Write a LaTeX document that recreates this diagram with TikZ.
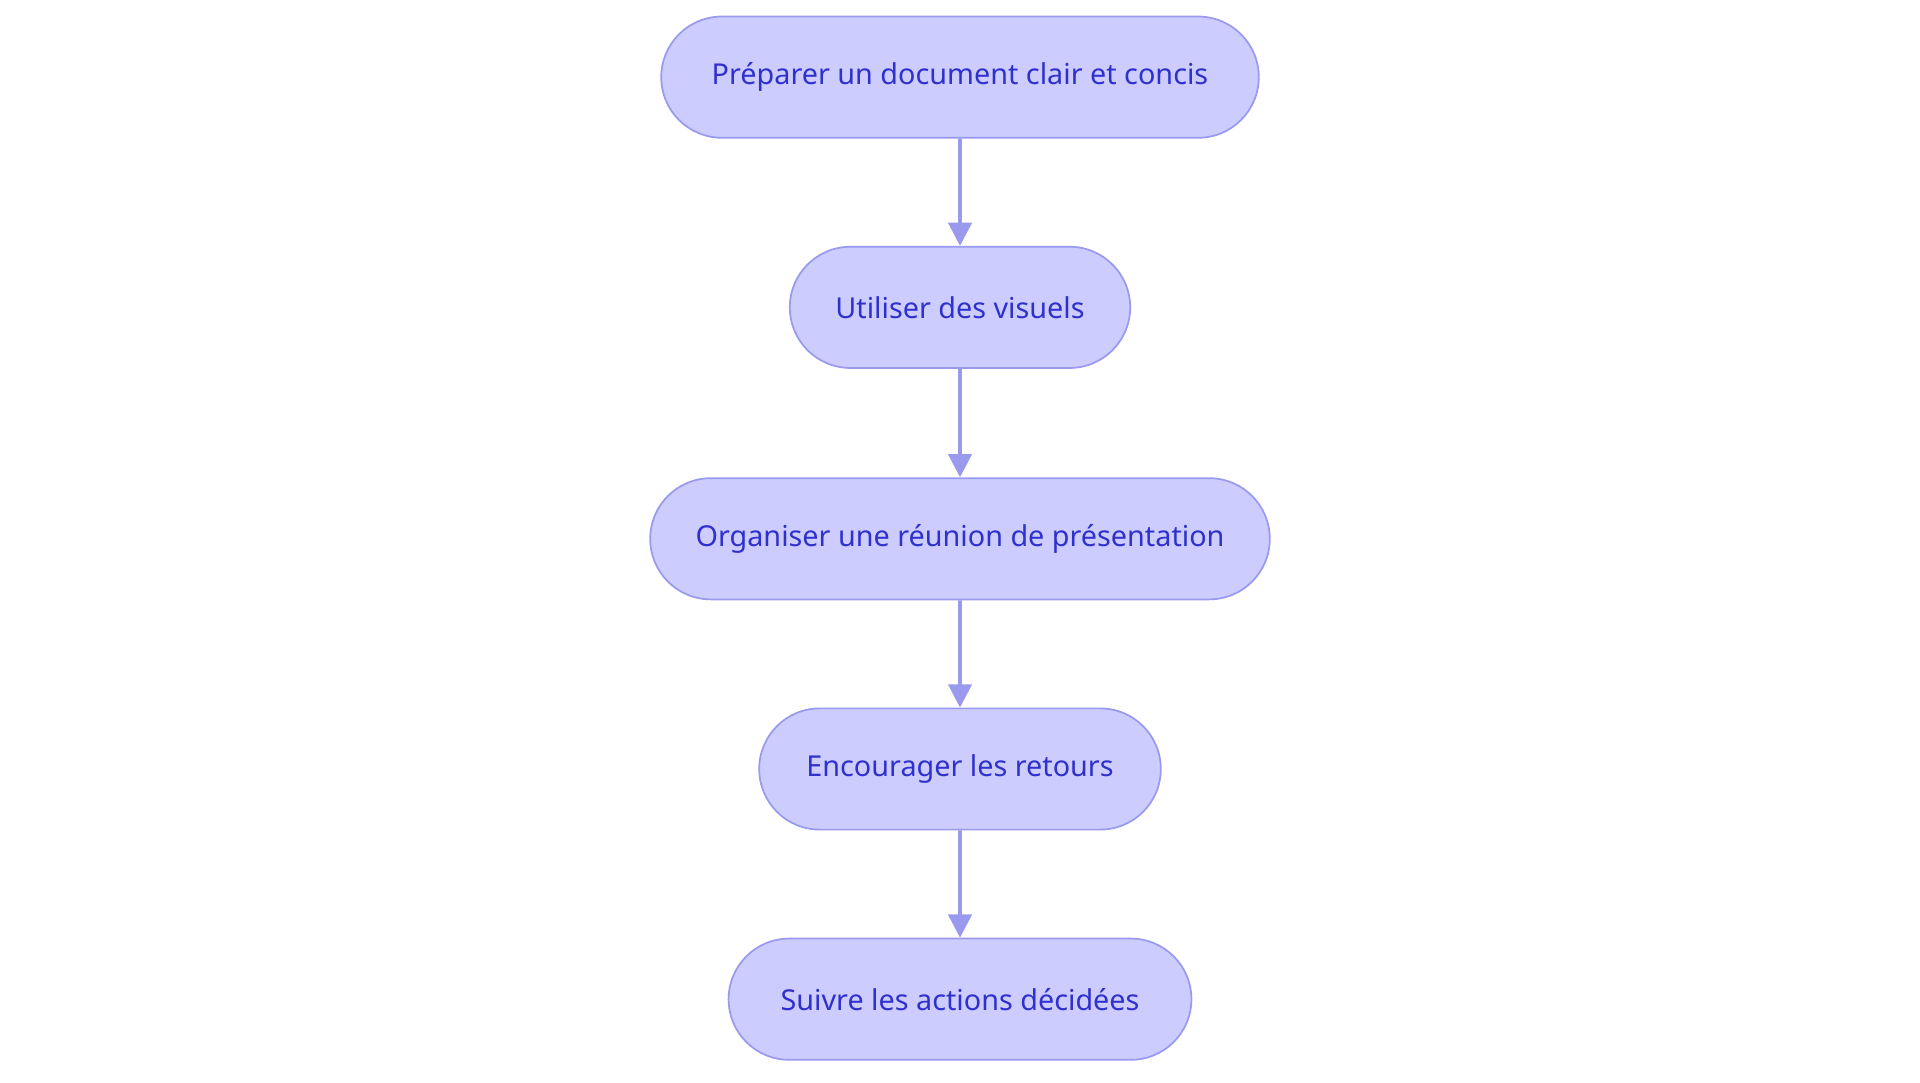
\documentclass[tikz,border=0pt]{standalone}
\usepackage{fontspec}
\setmainfont{Noto Sans}
\usetikzlibrary{shapes.misc,arrows.meta}
\definecolor{nfill}{HTML}{CCCCFF}
\definecolor{ndraw}{HTML}{9999EE}
\definecolor{ntext}{HTML}{3030CC}
\begin{document}
\begin{tikzpicture}[x=1pt,y=-1pt,
 box/.style={rounded rectangle, fill=nfill, draw=ndraw, line width=1.4pt, text=ntext, minimum height=99pt, inner sep=0pt, font=\fontsize{23.5}{27}\selectfont},
 arr/.style={draw=ndraw, line width=3pt, -{Triangle[length=19pt,width=19pt]}}]
\useasboundingbox (0,0) rectangle (1568,884);
\node[box, minimum width=488pt] (a) at (784,63) {Préparer un document clair et concis};
\node[box, minimum width=278pt] (b) at (784,251) {Utiliser des visuels};
\node[box, minimum width=506pt] (c) at (784,440) {Organiser une réunion de présentation};
\node[box, minimum width=328pt] (d) at (784,628) {Encourager les retours};
\node[box, minimum width=378pt] (e) at (784,816) {Suivre les actions décidées};
\draw[arr] (a) -- (b);
\draw[arr] (b) -- (c);
\draw[arr] (c) -- (d);
\draw[arr] (d) -- (e);
\end{tikzpicture}
\end{document}
